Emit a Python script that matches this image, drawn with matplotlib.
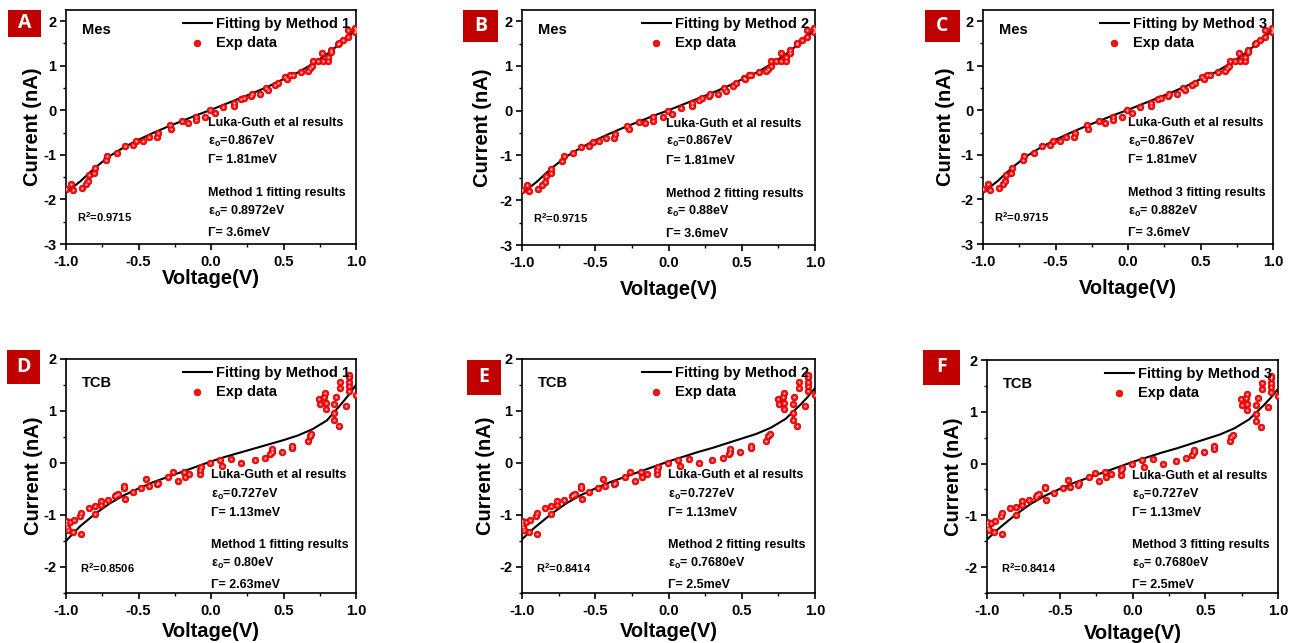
import numpy as np
import matplotlib
matplotlib.use('Agg')
import matplotlib.pyplot as plt
from matplotlib.patches import Rectangle
from matplotlib.ticker import MultipleLocator

plt.rcParams['font.family'] = ['Liberation Sans', 'DejaVu Sans']
plt.rcParams['font.weight'] = 'bold'
plt.rcParams['axes.unicode_minus'] = False
plt.rcParams['mathtext.fontset'] = 'custom'
plt.rcParams['mathtext.rm'] = 'Liberation Sans:bold'
plt.rcParams['mathtext.it'] = 'Liberation Sans:bold'
plt.rcParams['mathtext.bf'] = 'Liberation Sans:bold'
plt.rcParams['mathtext.default'] = 'rm'

# experimental data, Mes junction (same in A, B, C)
mes_v = [-1.0, -0.966, -0.95, -0.89, -0.862, -0.846, -0.839, -0.805, -0.80, -0.725,
         -0.716, -0.65, -0.594, -0.54, -0.514, -0.472, -0.429, -0.372, -0.365, -0.28,
         -0.273, -0.2, -0.16, -0.106, -0.106, -0.04, -0.005, 0.025, 0.083, 0.158,
         0.158, 0.21, 0.23, 0.277, 0.28, 0.34, 0.38, 0.39, 0.44, 0.46,
         0.513, 0.523, 0.548, 0.564, 0.62, 0.667, 0.68, 0.697, 0.70, 0.736,
         0.766, 0.77, 0.805, 0.805, 0.83, 0.83, 0.878, 0.88, 0.908, 0.943,
         0.943, 0.99, 0.99, 1.0]
mes_i = [-1.77, -1.66, -1.79, -1.75, -1.65, -1.59, -1.46, -1.40, -1.30, -1.12,
         -1.02, -0.95, -0.80, -0.79, -0.69, -0.68, -0.60, -0.60, -0.51, -0.34,
         -0.41, -0.25, -0.28, -0.15, -0.22, -0.15, 0.0, -0.07, 0.07, 0.10,
         0.17, 0.25, 0.28, 0.33, 0.37, 0.37, 0.51, 0.45, 0.56, 0.61,
         0.74, 0.71, 0.79, 0.80, 0.86, 0.88, 0.94, 1.0, 1.10, 1.10,
         1.29, 1.10, 1.10, 1.19, 1.35, 1.30, 1.48, 1.52, 1.57, 1.65,
         1.81, 1.76, 1.84, 1.80]

# experimental data, TCB junction (same in D, E, F)
tcb_v = [-1.0, -1.0, -0.99, -0.986, -0.972, -0.954, -0.945, -0.904, -0.9, -0.895,
         -0.84, -0.80, -0.80, -0.76, -0.76, -0.713, -0.66, -0.655, -0.64, -0.6,
         -0.6, -0.592, -0.54, -0.48, -0.445, -0.431, -0.372, -0.365, -0.296, -0.26,
         -0.23, -0.186, -0.18, -0.15, -0.078, -0.078, -0.069, -0.005, 0.064, 0.078,
         0.14, 0.209, 0.30, 0.37, 0.41, 0.42, 0.42, 0.49, 0.56, 0.56,
         0.667, 0.68, 0.69, 0.748, 0.752, 0.78, 0.787, 0.79, 0.79, 0.85,
         0.85, 0.85, 0.86, 0.88, 0.89, 0.89, 0.931, 0.95, 0.95, 0.95,
         0.95, 0.95, 1.0]
tcb_i = [-1.12, -1.18, -1.24, -1.28, -1.14, -1.33, -1.10, -1.02, -1.37, -0.96,
         -0.86, -0.99, -0.83, -0.80, -0.73, -0.71, -0.64, -0.61, -0.59, -0.48,
         -0.45, -0.70, -0.56, -0.48, -0.31, -0.45, -0.41, -0.38, -0.26, -0.18,
         -0.34, -0.17, -0.26, -0.21, -0.22, -0.13, -0.08, 0.0, 0.06, -0.06,
         0.08, 0.0, 0.05, 0.10, 0.17, 0.22, 0.26, 0.22, 0.29, 0.33,
         0.43, 0.51, 0.56, 1.24, 1.13, 1.26, 1.35, 1.15, 1.03, 1.13,
         0.96, 0.83, 1.26, 0.71, 1.44, 1.55, 1.09, 1.39, 1.48, 1.56,
         1.65, 1.70, 1.30]

# fitted curves
fit_v = [-1.0, -0.95, -0.9, -0.8, -0.7, -0.6, -0.5, -0.4, -0.3, -0.2, -0.1, 0.0,
         0.1, 0.2, 0.3, 0.4, 0.5, 0.6, 0.7, 0.8, 0.9, 0.95, 1.0]
fit_mes = [-1.85, -1.72, -1.59, -1.29, -1.03, -0.83, -0.66, -0.51, -0.37, -0.24, -0.11, 0.01,
           0.14, 0.27, 0.40, 0.54, 0.70, 0.85, 1.04, 1.26, 1.52, 1.66, 1.81]
fit_tcb_m1 = [-1.50, -1.35, -1.21, -0.98, -0.78, -0.62, -0.49, -0.37, -0.27, -0.17, -0.07, 0.03,
              0.12, 0.20, 0.28, 0.36, 0.44, 0.53, 0.65, 0.82, 1.14, 1.31, 1.50]
fit_tcb_m23 = [-1.47, -1.33, -1.21, -0.98, -0.78, -0.62, -0.49, -0.37, -0.27, -0.17, -0.07, 0.03,
               0.12, 0.21, 0.29, 0.38, 0.47, 0.56, 0.68, 0.85, 1.12, 1.27, 1.44]

letters = ['A', 'B', 'C', 'D', 'E', 'F']
methods = ['1', '2', '3', '1', '2', '3']
eps_fit = ['0.8972', '0.88', '0.882', '0.80', '0.7680', '0.7680']
gam_fit = ['3.6', '3.6', '3.6', '2.63', '2.5', '2.5']
r2 = ['0.9715', '0.9715', '0.9715', '0.8506', '0.8414', '0.8414']

W, H = 1291, 643
fig = plt.figure(figsize=(W / 100, H / 100), dpi=100)

# axes boxes in pixels: left, right, top, bottom
boxes = [(66, 356, 10, 244), (522, 815, 10, 245), (983, 1273, 10, 244),
         (66, 356, 359, 593), (522, 815, 359, 593), (987, 1278, 360, 593)]
# red label boxes: x0, y0, w, h
tags = [(8, 10, 33, 27), (463, 10, 35, 32), (925, 10, 35, 32),
        (7, 350, 33, 34), (467, 360, 34, 35), (923, 350, 37, 35)]
xlab_pad = [0, 7, 7, 3, 3, 4]
ylab_pad = [1, 5, 4, 0, 3, 1]

for k in range(6):
    l, r, t, b = boxes[k]
    ax = fig.add_axes([l / W, 1 - b / H, (r - l) / W, (b - t) / H])
    top = k < 3
    if top:
        vv, ii, fit, comp = mes_v, mes_i, fit_mes, 'Mes'
        eps_ref, gam_ref = '0.867', '1.81'
    else:
        vv, ii, comp = tcb_v, tcb_i, 'TCB'
        fit = fit_tcb_m1 if k == 3 else fit_tcb_m23
        eps_ref, gam_ref = '0.727', '1.13'

    ax.plot(fit_v, fit, color='black', lw=1.5, label='Fitting by Method ' + methods[k], zorder=2)
    ax.scatter(vv, ii, s=22, color='#ff1010', edgecolors='#d00000', linewidths=0.6,
               label='Exp data', zorder=3)
    ax.scatter(vv, ii, s=2.5, color='#ffc0c0', lw=0, zorder=4)

    ax.set_xlim(-1.0, 1.0)
    if top:
        ax.set_ylim(-3, 2.25)
    else:
        ax.set_ylim(-2.5, 2.0)
    ax.xaxis.set_major_locator(MultipleLocator(0.5))
    ax.xaxis.set_minor_locator(MultipleLocator(0.25))
    ax.yaxis.set_major_locator(MultipleLocator(1))
    ax.yaxis.set_minor_locator(MultipleLocator(0.5))
    ax.tick_params(which='major', direction='out', length=4, width=1.2, labelsize=10.5, pad=3)
    ax.tick_params(axis='x', which='major', pad=4)
    ax.tick_params(which='minor', direction='out', length=2.5, width=1)
    for lab in ax.get_xticklabels() + ax.get_yticklabels():
        lab.set_fontweight('bold')
    for sp in ax.spines.values():
        sp.set_linewidth(1.2)

    ax.set_xlabel('Voltage(V)', fontsize=14.5, fontweight='bold', labelpad=xlab_pad[k])
    ax.set_ylabel('Current (nA)', fontsize=14.5, fontweight='bold', labelpad=ylab_pad[k])

    ax.legend(loc='upper right', bbox_to_anchor=(1.0, 0.995), frameon=False,
              prop={'size': 10.5, 'weight': 'bold'}, handlelength=2.0,
              handletextpad=0.3, labelspacing=0.32, borderaxespad=0.2, borderpad=0.2)

    ax.text(0.055, 0.915 if top else 0.897, comp, transform=ax.transAxes,
            fontsize=10.5, fontweight='bold', va='center')
    ax.text(0.038 if top else 0.048, 0.115 if top else 0.107, 'R$^2$=' + r2[k],
            transform=ax.transAxes, fontsize=8, fontweight='bold', va='center')

    tx = 0.49 if k in (0, 1) else 0.50
    ys = [0.517, 0.44, 0.359, 0.218, 0.141, 0.047] if top else [0.504, 0.423, 0.342, 0.205, 0.128, 0.034]
    lines = ['Luka-Guth et al results',
             'ε$_\\mathregular{o}$=' + eps_ref + 'eV',
             'Γ= ' + gam_ref + 'meV',
             'Method ' + methods[k] + ' fitting results',
             'ε$_\\mathregular{o}$= ' + eps_fit[k] + 'eV',
             'Γ= ' + gam_fit[k] + 'meV']
    for s, yy in zip(lines, ys):
        ax.text(tx, yy, s, transform=ax.transAxes, fontsize=9, fontweight='bold', va='center')

    x0, y0, w, h = tags[k]
    fig.add_artist(Rectangle((x0 / W, 1 - (y0 + h) / H), w / W, h / H,
                             transform=fig.transFigure, facecolor='#c00000', edgecolor='none'))
    fig.text((x0 + w / 2) / W, 1 - (y0 + h / 2) / H, letters[k], color='white',
             fontsize=14, fontweight='bold', ha='center', va='center',
             family=['Open Sans', 'DejaVu Sans'])

fig.savefig('out.png', dpi=100)
